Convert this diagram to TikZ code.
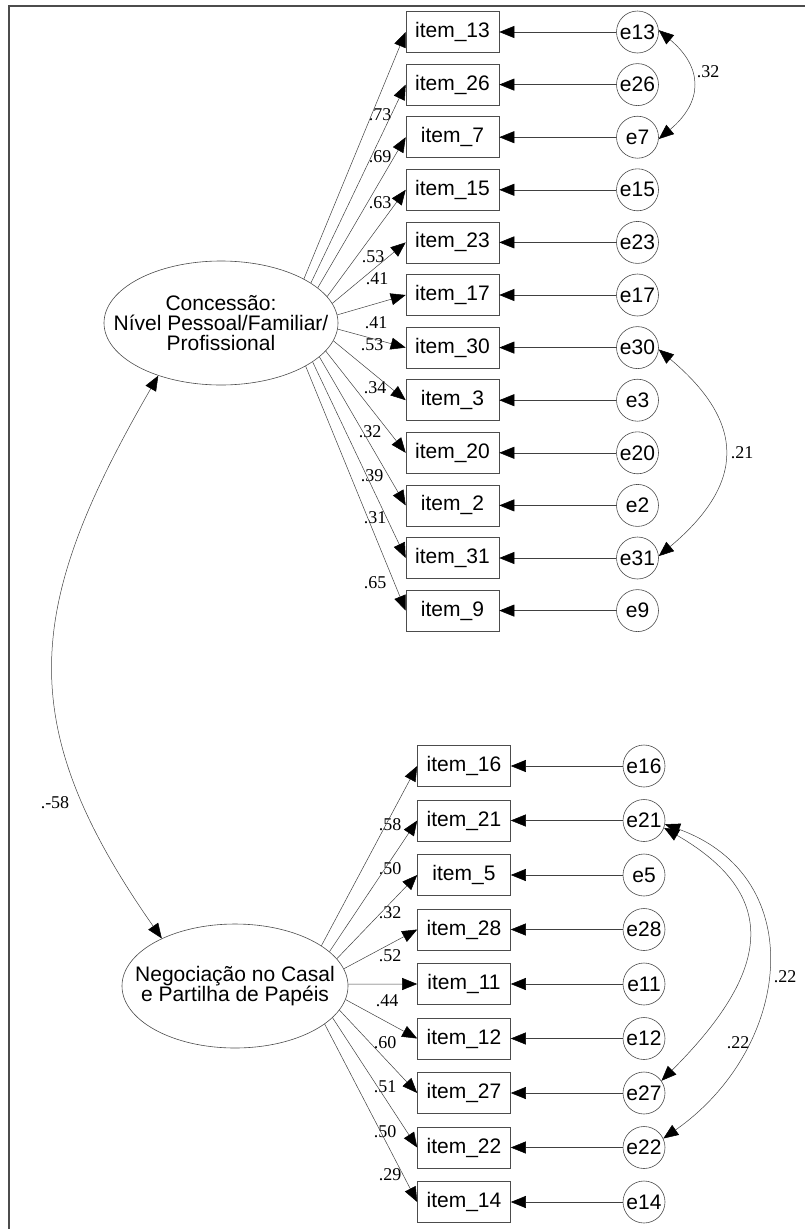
\documentclass[tikz,border=0pt]{standalone}
\usepackage{fontspec}
\setmainfont{Liberation Sans}
\newfontfamily\numfont{Liberation Serif}
\usetikzlibrary{shapes.geometric,arrows.meta}
\tikzstyle{item} = [rectangle, draw=black!70, line width=0.6pt, minimum width=93pt, minimum height=41pt, inner sep=0pt, font=\fontsize{21}{21}\selectfont]
\tikzstyle{err} = [circle, draw=black!70, line width=0.6pt, minimum size=42pt, inner sep=0pt, font=\fontsize{21}{21}\selectfont]
\tikzstyle{factor} = [ellipse, draw=black!70, line width=0.6pt, inner xsep=-80pt, inner ysep=0pt, minimum height=124pt, align=center, font=\fontsize{21}{20}\selectfont]
\tikzstyle{line} = [draw=black!75, line width=0.5pt, -{Triangle[length=15pt,width=12pt,black]}]
\tikzstyle{cov} = [draw=black!75, line width=0.5pt, {Triangle[length=15pt,width=12pt,black]}-{Triangle[length=15pt,width=12pt,black]}]
\tikzstyle{loading} = [inner sep=0pt, font=\numfont\fontsize{18}{18}\selectfont]
\begin{document}
\begin{tikzpicture}[x=1pt, y=1pt, node distance=52.6pt]
      \useasboundingbox (0,0) rectangle (805,-1229);
      \draw [black!70, line width=1.2pt] (9,-1229) -- (9,-6) -- (805,-6);
      % place nodes
      \node [factor, minimum width=234pt] (f1) at (221,-323) {Concessão:\\Nível Pessoal/Familiar/\\Profissional};
      \node [factor, minimum width=226pt] (f2) at (235,-986) {Negociação no Casal\\e Partilha de Papéis};

      \node [item] (i13) at (452.5,-32) {item\_13};
      \node [item, below of=i13] (i26) {item\_26};
      \node [item, below of=i26] (i7) {item\_7};
      \node [item, below of=i7] (i15) {item\_15};
      \node [item, below of=i15] (i23) {item\_23};
      \node [item, below of=i23] (i17) {item\_17};
      \node [item, below of=i17] (i30) {item\_30};
      \node [item, below of=i30] (i3) {item\_3};
      \node [item, below of=i3] (i20) {item\_20};
      \node [item, below of=i20] (i2) {item\_2};
      \node [item, below of=i2] (i31) {item\_31};
      \node [item, below of=i31] (i9) {item\_9};

      \node [err, right of=i13, node distance=185pt] (e13) {e13};
      \node [err, right of=i26, node distance=185pt] (e26) {e26};
      \node [err, right of=i7, node distance=185pt] (e7) {e7};
      \node [err, right of=i15, node distance=185pt] (e15) {e15};
      \node [err, right of=i23, node distance=185pt] (e23) {e23};
      \node [err, right of=i17, node distance=185pt] (e17) {e17};
      \node [err, right of=i30, node distance=185pt] (e30) {e30};
      \node [err, right of=i3, node distance=185pt] (e3) {e3};
      \node [err, right of=i20, node distance=185pt] (e20) {e20};
      \node [err, right of=i2, node distance=185pt] (e2) {e2};
      \node [err, right of=i31, node distance=185pt] (e31) {e31};
      \node [err, right of=i9, node distance=185pt] (e9) {e9};

      \begin{scope}[node distance=54.5pt]
      \node [item] (i16) at (464,-766) {item\_16};
      \node [item, below of=i16] (i21) {item\_21};
      \node [item, below of=i21] (i5) {item\_5};
      \node [item, below of=i5] (i28) {item\_28};
      \node [item, below of=i28] (i11) {item\_11};
      \node [item, below of=i11] (i12) {item\_12};
      \node [item, below of=i12] (i27) {item\_27};
      \node [item, below of=i27] (i22) {item\_22};
      \node [item, below of=i22] (i14) {item\_14};
      \end{scope}

      \node [err, right of=i16, node distance=180pt] (e16) {e16};
      \node [err, right of=i21, node distance=180pt] (e21) {e21};
      \node [err, right of=i5, node distance=180pt] (e5) {e5};
      \node [err, right of=i28, node distance=180pt] (e28) {e28};
      \node [err, right of=i11, node distance=180pt] (e11) {e11};
      \node [err, right of=i12, node distance=180pt] (e12) {e12};
      \node [err, right of=i27, node distance=180pt] (e27) {e27};
      \node [err, right of=i22, node distance=180pt] (e22) {e22};
      \node [err, right of=i14, node distance=180pt] (e14) {e14};

      % loadings and covariances
      \node [loading] (l13) at (380,-115) {.73};
      \node [loading] (l26) at (380,-157) {.69};
      \node [loading] (l7) at (380,-203) {.63};
      \node [loading] (l15) at (373,-257) {.53};
      \node [loading] (l23) at (377,-279) {.41};
      \node [loading] (l17) at (376,-323) {.41};
      \node [loading] (l30) at (372,-345) {.53};
      \node [loading] (l3) at (375,-388) {.34};
      \node [loading] (l20) at (370,-432) {.32};
      \node [loading] (l2) at (372,-476) {.39};
      \node [loading] (l31) at (375,-518) {.31};
      \node [loading] (l9) at (375,-583) {.65};

      \node [loading] (l16) at (390,-825) {.58};
      \node [loading] (l21) at (390,-869) {.50};
      \node [loading] (l5) at (390,-913) {.32};
      \node [loading] (l28) at (390,-956) {.52};
      \node [loading] (l11) at (387,-1001) {.44};
      \node [loading] (l12) at (385,-1043) {.60};
      \node [loading] (l27) at (385,-1087) {.51};
      \node [loading] (l22) at (385,-1132) {.50};
      \node [loading] (l14) at (390,-1175) {.29};

      \node [loading] (r12) at (55,-803) {.-58};
      \node [loading] (r137) at (708,-72) {.32};
      \node [loading] (r3031) at (742,-453) {.21};
      \node [loading] (r2127) at (738,-1043) {.22};
      \node [loading] (r2122) at (785,-977) {.22};

      % draw edges
      \path [line] (f1.28) -- (i13.west);
      \path [line] (f1.24) -- (i26.west);
      \path [line] (f1.20) -- (i7.west);
      \path [line] (f1.14) -- (i15.west);
      \path [line] (f1.10) -- (i23.west);
      \path [line] (f1.4) -- (i17.west);
      \path [line] (f1.-3) -- (i30.west);
      \path [line] (f1.-9) -- (i3.west);
      \path [line] (f1.-15) -- (i20.west);
      \path [line] (f1.-19) -- (i2.west);
      \path [line] (f1.-23) -- (i31.west);
      \path [line] (f1.-27) -- (i9.west);

      \path [line] (f2.25) -- (i16.west);
      \path [line] (f2.20) -- (i21.west);
      \path [line] (f2.15) -- (i5.west);
      \path [line] (f2.9) -- (i28.west);
      \path [line] (f2.1) -- (i11.west);
      \path [line] (f2.-7) -- (i12.west);
      \path [line] (f2.-13) -- (i27.west);
      \path [line] (f2.-18) -- (i22.west);
      \path [line] (f2.-23) -- (i14.west);

      \path [line] (e13) -- (i13);
      \path [line] (e26) -- (i26);
      \path [line] (e7) -- (i7);
      \path [line] (e15) -- (i15);
      \path [line] (e23) -- (i23);
      \path [line] (e17) -- (i17);
      \path [line] (e30) -- (i30);
      \path [line] (e3) -- (i3);
      \path [line] (e20) -- (i20);
      \path [line] (e2) -- (i2);
      \path [line] (e31) -- (i31);
      \path [line] (e9) -- (i9);

      \path [line] (e16) -- (i16);
      \path [line] (e21) -- (i21);
      \path [line] (e5) -- (i5);
      \path [line] (e28) -- (i28);
      \path [line] (e11) -- (i11);
      \path [line] (e12) -- (i12);
      \path [line] (e27) -- (i27);
      \path [line] (e22) -- (i22);
      \path [line] (e14) -- (i14);

      \path [cov] (f1.220) to[out=240, in=125, looseness=1.2] (f2.147);
      \path [cov] (e13.5) to[out=-40, in=40, looseness=1.37] (e7.-5);
      \path [cov] (e30.-5) to[out=-40, in=40, looseness=1.41] (e31.5);
      \path [cov] (e21.-20) to[out=-30, in=45, looseness=1.45] (e27.35);
      \path [cov] (e21.-10) to[out=-20, in=35, looseness=1.27] (e22.25);
    \end{tikzpicture}
\end{document}
